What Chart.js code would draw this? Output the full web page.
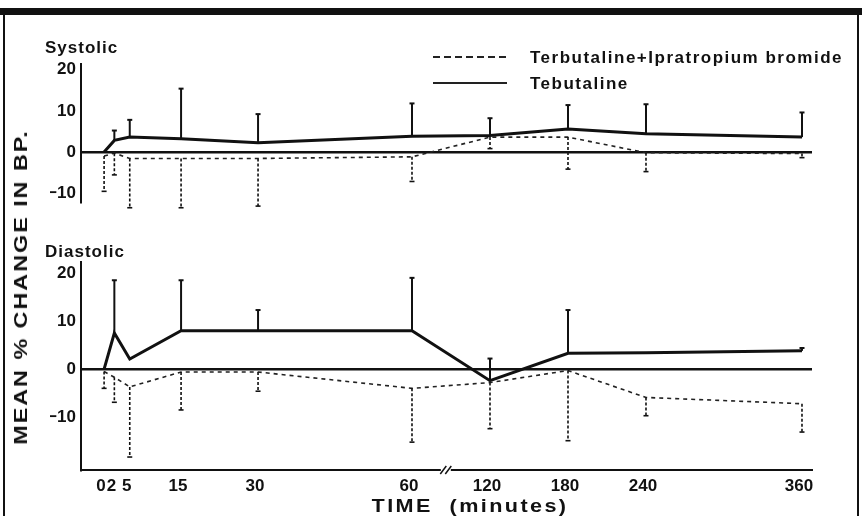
<!DOCTYPE html>
<html>
<head>
<meta charset="utf-8">
<script src="https://cdn.jsdelivr.net/npm/chart.js@4.4.1/dist/chart.umd.min.js"></script>
<style>
  html, body { margin: 0; padding: 0; background: #fff; }
  #wrap { position: relative; width: 862px; height: 516px; overflow: hidden; background: #fff;
          font-family: "Liberation Sans", Arial, sans-serif; font-weight: bold; color: #111; }
  .box { position: absolute; left: 0; width: 862px; }
  #topBox { top: 0; height: 240px; }
  #botBox { top: 240px; height: 276px; }
  .lbl { position: absolute; white-space: pre; line-height: 1; }
  .rule { position: absolute; background: #111; }
</style>
</head>
<body>
<div id="wrap">
  <div class="rule" style="left:0;top:8px;width:862px;height:7px;"></div>
  <div class="rule" style="left:3px;top:8px;width:2px;height:508px;"></div>
  <div class="rule" style="left:857px;top:8px;width:2px;height:508px;"></div>

  <div class="box" id="topBox"><canvas id="sysChart"></canvas></div>
  <div class="box" id="botBox"><canvas id="diaChart"></canvas></div>

  <div class="lbl" style="left:45px;top:39px;font-size:17px;letter-spacing:1px;">Systolic</div>
  <div class="lbl" style="left:45px;top:243px;font-size:17px;letter-spacing:1px;">Diastolic</div>

  <!-- legenda -->
  <div style="position:absolute;left:433px;top:56px;width:77px;height:2px;
       background:repeating-linear-gradient(90deg,#222 0 7px,transparent 7px 11px);"></div>
  <div class="rule" style="left:433px;top:82px;width:74px;height:2px;background:#222;"></div>
  <div class="lbl" style="left:530px;top:49px;font-size:17px;letter-spacing:1.5px;">Terbutaline+Ipratropium bromide</div>
  <div class="lbl" style="left:530px;top:75px;font-size:17px;letter-spacing:1.5px;">Tebutaline</div>

  <div class="lbl" style="left:21px;top:287px;font-size:18px;letter-spacing:1.5px;
       transform:translate(-50%,-50%) rotate(-90deg) scaleX(1.3);">MEAN % CHANGE IN BP.</div>
  <div class="lbl" style="left:470px;top:506px;font-size:18px;letter-spacing:2px;
       transform:translate(-50%,-50%) scaleX(1.2);">TIME  (minutes)</div>
</div>

<script>
// tiempos (min) y valores
const TIMES = [0, 2, 5, 15, 30, 60, 120, 180, 240, 360];
const TIME_TICKS = [0, 2, 5, 15, 30, 60, 120, 180, 240, 360];
const Y_TICKS = [-10, 0, 10, 20];

// Systolic
const sysTeb     = [0, 2.8, 3.6, 3.2, 2.2, 3.8, 4.0, 5.6, 4.4, 3.6];
const sysTebSD   = [0, 2.4, 4.2, 12.2, 7.0, 8.0, 4.2, 5.8, 7.2, 6.0];
const sysCombo   = [-1.0, -0.3, -1.6, -1.6, -1.6, -1.2, 3.6, 3.6, -0.2, -0.4];
const sysComboSD = [8.6, 5.3, 12.0, 12.0, 11.6, 6.0, 2.8, 7.8, 4.6, 1.0];

// Diastolic
const diaTeb     = [0, 7.5, 2.1, 8.0, 8.0, 8.0, -2.4, 3.3, 3.4, 3.8];
const diaTebSD   = [0, 11.0, 0, 10.5, 4.3, 11.0, 4.6, 9.0, 0, 0.6];
const diaCombo   = [-0.5, -1.7, -3.7, -0.6, -0.6, -4.0, -2.8, -0.3, -5.9, -7.2];
const diaComboSD = [3.5, 5.2, 14.6, 7.9, 4.0, 11.2, 9.6, 14.6, 3.8, 5.9];

const FONT = "'Liberation Sans', Arial, sans-serif";
const INK = "#111";

// --- Escala de tiempo con corte (0-60 ampliado, 60-360 comprimido) ---
class BrokenTimeScale extends Chart.LinearScale {
  buildTicks() {
    return this.options.tickValues.map(v => ({ value: v }));
  }
  _frac(v) {
    const b = this.options.breakAt, f = this.options.breakFrac;
    if (v <= b) return (v - this.min) / (b - this.min) * f;
    return f + (v - b) / (this.max - b) * (1 - f);
  }
  getPixelForValue(v) {
    return v === null ? NaN : this.getPixelForDecimal(this._frac(v));
  }
  getValueForPixel(p) {
    const d = this.getDecimalForPixel(p);
    const b = this.options.breakAt, f = this.options.breakFrac;
    if (d <= f) return this.min + d / f * (b - this.min);
    return b + (d - f) / (1 - f) * (this.max - b);
  }
}
BrokenTimeScale.id = "brokenTime";
BrokenTimeScale.defaults = Chart.LinearScale.defaults;
Chart.register(BrokenTimeScale);

// --- barras de error: hacia arriba (sólida) o hacia abajo (discontinua) ---
const errorBars = {
  id: "errorBars",
  afterDatasetsDraw(chart) {
    const { ctx, scales: { y } } = chart;
    chart.data.datasets.forEach((ds, i) => {
      if (!ds.errors) return;
      const meta = chart.getDatasetMeta(i);
      ctx.save();
      ctx.strokeStyle = INK;
      ctx.lineWidth = ds.errWidth;
      ctx.setLineDash(ds.errDash);
      meta.data.forEach((pt, j) => {
        const e = ds.errors[j];
        if (!e) return;
        const yEnd = y.getPixelForValue(ds.data[j].y + ds.errDir * e);
        ctx.beginPath();
        ctx.moveTo(pt.x, pt.y);
        ctx.lineTo(pt.x, yEnd);
        ctx.stroke();
        ctx.setLineDash([]);
        ctx.beginPath();
        ctx.moveTo(pt.x - 2.5, yEnd);
        ctx.lineTo(pt.x + 2.5, yEnd);
        ctx.stroke();
        ctx.setLineDash(ds.errDash);
      });
      ctx.restore();
    });
  }
};

// --- marca "//" del corte en el eje de tiempo ---
const axisBreak = {
  id: "axisBreak",
  afterDraw(chart, args, opts) {
    if (!opts.at) return;
    const { ctx, scales: { x } } = chart;
    const px = x.getPixelForValue(opts.at);
    const py = chart.chartArea.bottom;
    ctx.save();
    ctx.fillStyle = "#fff";
    ctx.fillRect(px - 5, py - 4, 10, 8);
    ctx.strokeStyle = INK;
    ctx.lineWidth = 1.5;
    [-2.5, 2.5].forEach(d => {
      ctx.beginPath();
      ctx.moveTo(px + d - 3, py + 4);
      ctx.lineTo(px + d + 3, py - 4);
      ctx.stroke();
    });
    ctx.restore();
  }
};

const pts = vals => TIMES.map((t, i) => ({ x: t, y: vals[i] }));

function makePanel(canvasId, combo, comboSD, teb, tebSD, yMin, yMax, showX, padding) {
  return new Chart(document.getElementById(canvasId), {
    type: "line",
    data: {
      datasets: [
        {
          label: "Terbutaline+Ipratropium bromide",
          data: pts(combo),
          borderColor: "#222",
          borderWidth: 1.6,
          borderDash: [4, 4],
          pointRadius: 0,
          tension: 0,
          errors: comboSD,
          errDir: -1,
          errWidth: 1.6,
          errDash: [3, 2],
        },
        {
          label: "Tebutaline",
          data: pts(teb),
          borderColor: INK,
          borderWidth: 3,
          pointRadius: 0,
          tension: 0,
          errors: tebSD,
          errDir: 1,
          errWidth: 2,
          errDash: [],
        },
      ],
    },
    options: {
      responsive: true,
      maintainAspectRatio: false,
      animation: false,
      layout: { padding },
      plugins: {
        legend: { display: false },
        tooltip: { enabled: false },
        axisBreak: { at: showX ? 86 : null },
      },
      scales: {
        x: {
          type: "brokenTime",
          display: showX,
          min: -4.5,
          max: 367.7,
          breakAt: 60,
          breakFrac: 0.4528,
          tickValues: TIME_TICKS,
          afterFit: s => { s.height = 30; },
          border: { display: true, color: INK, width: 2 },
          grid: { display: false, drawTicks: false },
          ticks: {
            autoSkip: false,
            maxRotation: 0,
            padding: 6,
            labelOffset: -3,
            color: INK,
            font: { family: FONT, size: 17, weight: "bold" },
            callback: v => String(v),
          },
        },
        y: {
          min: yMin,
          max: yMax,
          afterBuildTicks: s => { s.ticks = Y_TICKS.map(v => ({ value: v })); },
          afterFit: s => { s.width = 31; },
          border: { display: true, color: INK, width: 2 },
          grid: {
            drawTicks: false,
            lineWidth: 2.5,
            color: c => (c.tick && c.tick.value === 0 ? INK : "rgba(0,0,0,0)"),
          },
          ticks: {
            padding: 5,
            color: INK,
            font: { family: FONT, size: 17, weight: "bold" },
            callback: v => (v < 0 ? "\u2212" + Math.abs(v) : String(v)),
          },
        },
      },
    },
    plugins: [errorBars, axisBreak],
  });
}

makePanel("sysChart", sysCombo, sysComboSD, sysTeb, sysTebSD, -12.2, 21.4, false,
  { top: 64, bottom: 8, left: 50, right: 50 });
makePanel("diaChart", diaCombo, diaComboSD, diaTeb, diaTebSD, -21.0, 22.3, true,
  { top: 22, bottom: 16, left: 50, right: 50 });
</script>
</body>
</html>
